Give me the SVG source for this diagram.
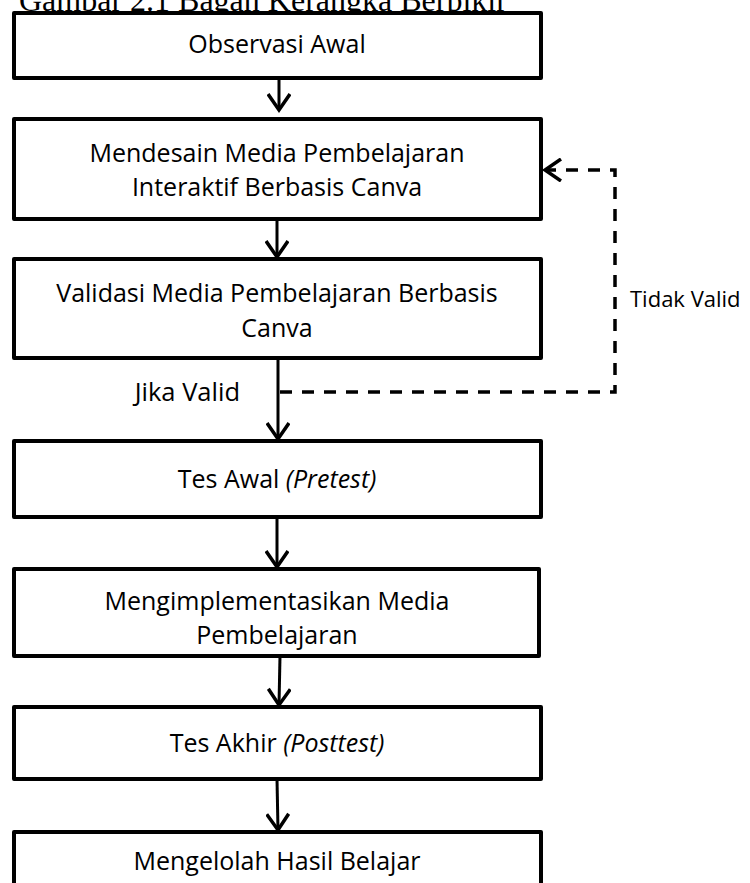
<svg xmlns="http://www.w3.org/2000/svg" width="750" height="883" viewBox="0 0 750 883">
<style>
.box{fill:#fff;stroke:#000;stroke-width:4;stroke-linejoin:round}
.t{font-family:"Open Sans","Noto Sans",sans-serif;font-size:25px;fill:#000;text-anchor:middle}
.lbl{font-family:"Open Sans","Noto Sans",sans-serif;fill:#000}
.title{font-family:"Liberation Serif","Times New Roman",serif;font-size:32px;fill:#000}
.c{fill:none;stroke:#000;stroke-width:3}
.d{fill:none;stroke:#000;stroke-width:3.5;stroke-dasharray:12 10}
</style>
<defs>
<marker id="ah" viewBox="0 0 24 24" refX="20" refY="12" markerWidth="24" markerHeight="24" markerUnits="userSpaceOnUse" orient="auto">
<path d="M4,1 L20,12 L4,23" fill="none" stroke="#000" stroke-width="3.5"/>
</marker>
</defs>
<text class="title" x="19" y="11">Gambar 2.1 Bagan Kerangka Berpikir</text>
<g id="connectors">
<line class="c" x1="279" y1="78" x2="279" y2="110" marker-end="url(#ah)"/>
<line class="c" x1="277" y1="219" x2="277" y2="257" marker-end="url(#ah)"/>
<line class="c" x1="278" y1="358" x2="278" y2="439" marker-end="url(#ah)"/>
<line class="c" x1="277" y1="517" x2="277" y2="567" marker-end="url(#ah)"/>
<line class="c" x1="280" y1="656" x2="279" y2="705" marker-end="url(#ah)"/>
<line class="c" x1="277" y1="779" x2="278" y2="830" marker-end="url(#ah)"/>
<path class="d" d="M280,392 H615 V170 H545" marker-end="url(#ah)"/>
<text class="lbl" x="240" y="401" text-anchor="end" style="font-size:25.5px">Jika Valid</text>
<text class="lbl" x="630" y="307" style="font-size:22px">Tidak Valid</text>
</g>
<g id="n1"><rect class="box" x="14" y="13" width="527" height="65"/><text class="t" x="277" y="53">Observasi Awal</text></g>
<g id="n2"><rect class="box" x="14" y="119" width="527" height="100"/><text class="t" x="277" y="162">Mendesain Media Pembelajaran</text><text class="t" x="277" y="196">Interaktif Berbasis Canva</text></g>
<g id="n3"><rect class="box" x="14" y="259" width="527" height="99"/><text class="t" x="277" y="302">Validasi Media Pembelajaran Berbasis</text><text class="t" x="277" y="337">Canva</text></g>
<g id="n4"><rect class="box" x="14" y="441" width="527" height="76"/><text class="t" x="277" y="488">Tes Awal <tspan font-style="italic">(Pretest)</tspan></text></g>
<g id="n5"><rect class="box" x="14" y="569" width="525" height="87"/><text class="t" x="277" y="610">Mengimplementasikan Media</text><text class="t" x="277" y="644">Pembelajaran</text></g>
<g id="n6"><rect class="box" x="14" y="707" width="527" height="72"/><text class="t" x="277" y="752">Tes Akhir <tspan font-style="italic">(Posttest)</tspan></text></g>
<g id="n7"><rect class="box" x="14" y="832" width="527" height="80"/><text class="t" x="277" y="870">Mengelolah Hasil Belajar</text></g>
</svg>
